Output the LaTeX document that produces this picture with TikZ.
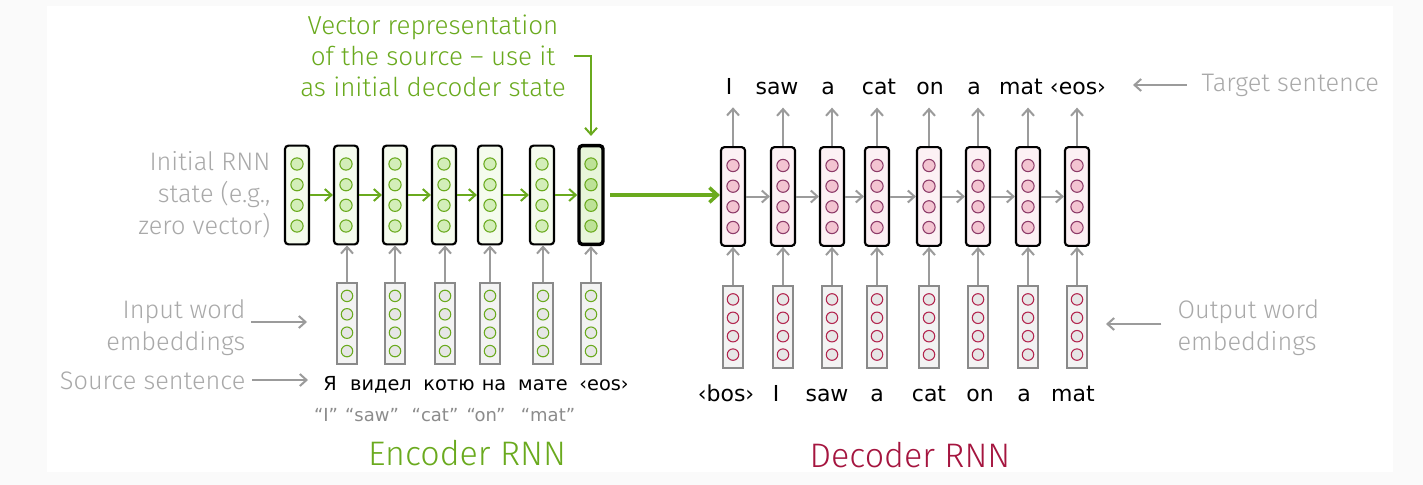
\documentclass[tikz,border=0pt]{standalone}
\usepackage{fontspec}
\setmainfont{Fira Sans Light}
\newfontfamily\wordfont{DejaVu Sans}
\usetikzlibrary{arrows.meta}
\definecolor{encgreen}{HTML}{6AAA1E}
\definecolor{encfill}{HTML}{F5FBEE}
\definecolor{encdotfill}{HTML}{D3EEB8}
\definecolor{lastfill}{HTML}{E8F5DA}
\definecolor{lastdotfill}{HTML}{BDE296}
\definecolor{embfill}{HTML}{F3F3F3}
\definecolor{embdotfill}{HTML}{E6E6E6}
\definecolor{embgray}{HTML}{8A8A8A}
\definecolor{decfill}{HTML}{FCF1F4}
\definecolor{decdotfill}{HTML}{F3C4D1}
\definecolor{decdotdraw}{HTML}{8C3A68}
\definecolor{decred}{HTML}{A5153F}
\definecolor{embred}{HTML}{B3264F}
\definecolor{labelgray}{HTML}{A9A9A9}
\definecolor{glossgray}{HTML}{8C8C8C}
\definecolor{linegray}{HTML}{9B9B9B}
\definecolor{bgcol}{HTML}{FAFAFA}
\begin{document}
\begin{tikzpicture}[>={Straight Barb[length=5pt,width=9pt]},x=0.75pt,y=-0.75pt,
    rnnbox/.style={draw=black,line width=1.6pt,rounded corners=2.5pt,minimum width=18pt,minimum height=74pt,inner sep=0pt},
    encstate/.style={rnnbox,fill=encfill},
    decstate/.style={rnnbox,fill=decfill},
    emb/.style={draw=embgray,line width=1.4pt,fill=embfill,minimum width=15pt,minimum height=61pt,inner sep=0pt},
    rnndot/.style={circle,line width=0.8pt,minimum size=9.2pt,inner sep=0pt},
    encdot/.style={rnndot,draw=encgreen,fill=encdotfill},
    decdot/.style={rnndot,draw=decdotdraw,fill=decdotfill},
    embdot/.style={rnndot,minimum size=8.6pt,fill=embdotfill},
    word/.style={font=\wordfont\fontsize{16.5}{20}\selectfont,anchor=base,inner sep=1pt},
    lbl/.style={font=\fontsize{19}{24}\selectfont,text=labelgray,inner sep=1pt},
    grayline/.style={->,draw=linegray,line width=1.5pt},
    greenline/.style={->,draw=encgreen,line width=1.5pt}]
  \fill[bgcol] (0,0) rectangle (1423,485);
  \fill[white] (47,6) rectangle (1393,472);
  % encoder states
  \foreach \x [count=\i] in {297,346,395,444,490,542}{
    \node[encstate] (e\i) at (\x,195) {};
    \foreach \dy [count=\j] in {-31,-10.3,10.3,31}
      \node[encdot] (e\i-\j) at (\x,{195+\dy}) {};
  }
  \node[encstate,fill=lastfill,line width=2.6pt] (e7) at (591,195) {};
  \foreach \dy [count=\j] in {-31,-10.3,10.3,31}
    \node[encdot,fill=lastdotfill] (e7-\j) at (591,{195+\dy}) {};
  \foreach \i [count=\j from 2] in {1,...,6}
    \draw[greenline] (e\i.east) -- (e\j.west);
  % input embeddings
  \foreach \x [count=\i from 2] in {347,395,445,490,543,591}{
    \node[emb] (x\i) at (\x,323.5) {};
    \foreach \dy [count=\j] in {-27.6,-9.2,9.2,27.6}
      \node[embdot,draw=encgreen] (x\i-\j) at (\x,{323.5+\dy}) {};
    \draw[grayline] (x\i.north) -- (x\i.north |- e\i.south);
  }
  % decoder states and output embeddings
  \foreach \x [count=\i] in {733,783,832,877,929,978,1028,1077}{
    \node[decstate] (d\i) at (\x,196.5) {};
    \foreach \dy [count=\j] in {-31,-10.3,10.3,31}
      \node[decdot] (d\i-\j) at (\x,{196.5+\dy}) {};
    \node[emb] (y\i) at (\x,327) {};
    \foreach \dy [count=\j] in {-27.6,-9.2,9.2,27.6}
      \node[embdot,draw=embred] (y\i-\j) at (\x,{327+\dy}) {};
    \draw[grayline] (y\i.north) -- (y\i.north |- d\i.south);
  }
  \foreach \i [count=\j from 2] in {1,...,7}
    \draw[grayline] (d\i.east) -- (d\j.west);
  \draw[->,draw=encgreen,line width=2.6pt,>={Straight Barb[length=6pt,width=11pt]},shorten <=4pt] (e7.east) -- (e7.east -| d1.west);
  % words
  \foreach \w/\x [count=\i] in {I/729,saw/777,a/828,cat/879,on/930,a/974,mat/1021,‹eos›/1078}
    \node[word] (t\i) at (\x,94) {\w};
  \foreach \i in {1,...,8}
    \draw[grayline,shorten >=8.8pt] (d\i.north) -- (d\i.north |- t\i.south);
  \foreach \w/\x [count=\i] in {‹bos›/726,I/776,saw/827,a/877,cat/929,on/980,a/1024,mat/1073}
    \node[word] (b\i) at (\x,401) {\w};
  \foreach \w/\x [count=\i] in {Я/330,видел/381,котю/449,на/494,мате/543,‹eos›/604}
    \node[word,font=\wordfont\fontsize{14.5}{18}\selectfont] (s\i) at (\x,390) {\w};
  \foreach \w/\x [count=\i] in {I/326,saw/372,cat/435,on/486,mat/548}
    \node[word,text=glossgray,font=\wordfont\fontsize{13.5}{16}\selectfont] (g\i) at (\x,421) {“\w”};
  % labels
  \node[font=\fontsize{19.5}{23.5}\selectfont,text=encgreen,align=center] (vr) at (433,56) {Vector representation\\of the source – use it\\as initial decoder state};
  \draw[greenline,shorten <=3pt,shorten >=6pt] (vr.east) -| (e7.north);
  \node[lbl,align=right,anchor=east] (init) at (272,195) {Initial RNN\\state (e.g.,\\zero vector)};
  \node[lbl,align=right,anchor=east] (inp) at (247,328) {Input word\\embeddings};
  \coordinate (inpend) at (307,322);
  \draw[grayline,shorten <=3pt] (inp.east |- inpend) -- (inpend);
  \node[lbl,anchor=east] (src) at (247,381) {Source sentence};
  \coordinate (srcend) at (308,380);
  \draw[grayline,shorten <=4pt] (src.east |- srcend) -- (srcend);
  \node[lbl,anchor=west] (tgt) at (1200,85) {Target sentence};
  \coordinate (tgtend) at (1133,85);
  \draw[grayline,shorten <=10pt] (tgt.west) -- (tgtend);
  \node[lbl,align=left,anchor=west] (out) at (1176,328) {Output word\\embeddings};
  \coordinate (outend) at (1106,324);
  \draw[grayline,shorten <=11pt] (out.west |- outend) -- (outend);
  \node[font=\fontsize{25.5}{30}\selectfont,text=encgreen] (enc) at (467,453) {Encoder RNN};
  \node[font=\fontsize{25.5}{30}\selectfont,text=decred] (dec) at (910,455) {Decoder RNN};
\end{tikzpicture}
\end{document}
